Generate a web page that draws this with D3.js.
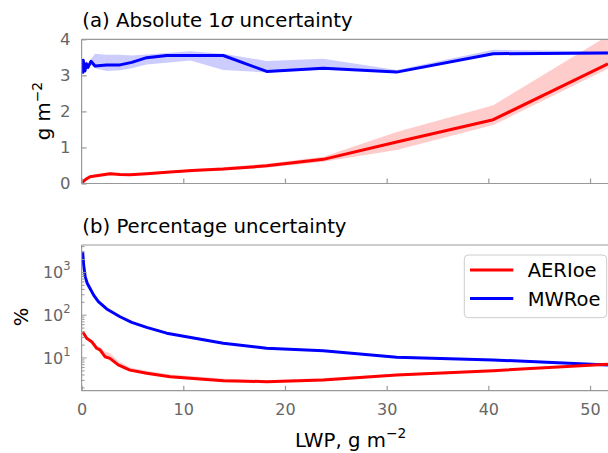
<!DOCTYPE html>
<html>
<head>
<meta charset="utf-8">
<script src="https://cdn.jsdelivr.net/npm/d3@7"></script>
<style>
  body { margin: 0; background: #fff; }
  svg { display: block; font-family: "DejaVu Sans", sans-serif; }
</style>
</head>
<body>
<svg id="chart" width="608" height="453"></svg>
<script>
// (a) absolute 1-sigma uncertainty, g m-2
const aeriAbsX = [0.04, 0.2, 0.5, 0.83, 1.3, 1.81, 2.8, 3.78, 4.76, 6.4, 8.7, 10.9, 13.93, 18.2, 23.77, 30.98, 40.48, 51.76];
const aeriAbs = [0.0, 0.07, 0.13, 0.19, 0.21, 0.23, 0.27, 0.25, 0.24, 0.27, 0.32, 0.36, 0.40, 0.49, 0.67, 1.15, 1.77, 3.32];
const aeriAbsLo = [0.0, 0.05, 0.11, 0.17, 0.19, 0.21, 0.24, 0.23, 0.22, 0.25, 0.30, 0.33, 0.36, 0.44, 0.60, 0.93, 1.62, 3.18];
const aeriAbsHi = [0.02, 0.09, 0.15, 0.21, 0.24, 0.27, 0.32, 0.28, 0.27, 0.30, 0.35, 0.40, 0.45, 0.55, 0.74, 1.43, 2.17, 4.10];

const mwrAbsX = [0.09, 0.16, 0.33, 0.48, 0.63, 0.92, 1.32, 2.47, 3.78, 4.93, 6.4, 8.37, 10.7, 13.93, 18.2, 23.77, 30.98, 40.48, 51.76];
const mwrAbs = [3.05, 3.42, 3.12, 3.32, 3.22, 3.39, 3.26, 3.29, 3.29, 3.36, 3.49, 3.55, 3.55, 3.55, 3.11, 3.20, 3.09, 3.60, 3.62];
const mwrAbsLo = [3.0, 3.3, 3.05, 3.25, 3.15, 3.3, 3.2, 3.12, 3.14, 3.2, 3.3, 3.35, 3.41, 3.15, 3.08, 3.17, 3.07, 3.58, 3.60];
const mwrAbsHi = [3.1, 3.5, 3.2, 3.4, 3.3, 3.45, 3.6, 3.57, 3.57, 3.55, 3.58, 3.62, 3.67, 3.6, 3.4, 3.46, 3.15, 3.71, 3.66];

// (b) percentage uncertainty
const aeriPctX = [0.11, 0.5, 0.99, 1.48, 1.81, 2.3, 2.79, 3.6, 4.76, 6.4, 8.7, 13.93, 18.2, 23.77, 30.98, 40.48, 51.76];
const aeriPct = [41, 28.9, 24, 16.9, 15.4, 10.7, 9.8, 6.9, 5.2, 4.4, 3.66, 2.95, 2.8, 3.06, 4.0, 5.05, 7.1];
const aeriPctLo = [39, 27, 22, 15.5, 14.5, 10, 9.2, 6.5, 4.9, 4.2, 3.5, 2.85, 2.7, 2.95, 3.8, 4.9, 6.9];
const aeriPctHi = [44, 31, 26, 19, 18, 14, 13, 8.5, 6, 5, 4.1, 3.3, 3.0, 3.4, 4.3, 5.3, 7.5];

const mwrPctX = [0.1, 0.2, 0.35, 0.55, 0.82, 1.2, 1.65, 2.47, 3.78, 4.93, 6.4, 8.37, 13.93, 18.2, 23.77, 30.98, 40.48, 51.76];
const mwrPct = [3050, 1500, 795, 560, 427, 290, 207, 140, 92, 68, 52, 38, 22, 16.9, 14.8, 10.4, 9.0, 6.9];

const xTicks = [0, 10, 20, 30, 40, 50];
const absTicks = [0, 1, 2, 3, 4];
const seriesNames = ["AERIoe", "MWRoe"];
const seriesColors = ["#ff0000", "#0000ff"];

const svg = d3.select("#chart");
const spineColor = "#999", labelColor = "#666";
const bigFont = "19.7px", tickFont = "16px";

const x = d3.scaleLinear().domain([0, 52.75]).range([81.6, 618]);
const yA = d3.scaleLinear().domain([0, 4]).range([183.5, 39.3]);
const yB = d3.scaleLog().domain([1.72, 4365]).range([390.7, 245]);

// clip rects for each panel
const defs = svg.append("defs");
defs.append("clipPath").attr("id", "clipA").append("rect")
    .attr("x", 81.6).attr("y", 39.3).attr("width", 540).attr("height", 183.5 - 39.3);
defs.append("clipPath").attr("id", "clipB").append("rect")
    .attr("x", 81.6).attr("y", 245).attr("width", 540).attr("height", 390.7 - 245);

function zip(xs, ys) { return xs.map((d, i) => [d, ys[i]]); }

function drawBand(g, y, xs, lo, hi, color) {
    const area = d3.area().x(d => x(d[0])).y0(d => y(d[1])).y1(d => y(d[2]));
    g.append("path")
        .datum(xs.map((d, i) => [d, lo[i], hi[i]]))
        .attr("d", area)
        .attr("fill", color).attr("fill-opacity", 0.2).attr("stroke", "none");
}
function drawLine(g, y, xs, ys, color) {
    const line = d3.line().x(d => x(d[0])).y(d => y(d[1]));
    g.append("path")
        .datum(zip(xs, ys))
        .attr("d", line)
        .attr("fill", "none").attr("stroke", color)
        .attr("stroke-width", 3).attr("stroke-linejoin", "round");
}

// panel a
const gA = svg.append("g").attr("clip-path", "url(#clipA)");
drawBand(gA, yA, mwrAbsX, mwrAbsLo, mwrAbsHi, seriesColors[1]);
drawBand(gA, yA, aeriAbsX, aeriAbsLo, aeriAbsHi, seriesColors[0]);
drawLine(gA, yA, mwrAbsX, mwrAbs, seriesColors[1]);
drawLine(gA, yA, aeriAbsX, aeriAbs, seriesColors[0]);

// panel b
const gB = svg.append("g").attr("clip-path", "url(#clipB)");
drawBand(gB, yB, aeriPctX, aeriPctLo, aeriPctHi, seriesColors[0]);
drawLine(gB, yB, mwrPctX, mwrPct, seriesColors[1]);
drawLine(gB, yB, aeriPctX, aeriPct, seriesColors[0]);

// spines (right one falls outside the window)
function spines(top, bottom) {
    const g = svg.append("g").attr("stroke", spineColor).attr("stroke-width", 1.2);
    g.append("line").attr("x1", 81.6).attr("x2", 81.6).attr("y1", top).attr("y2", bottom);
    g.append("line").attr("x1", 81.6).attr("x2", 618).attr("y1", top).attr("y2", top);
    g.append("line").attr("x1", 81.6).attr("x2", 618).attr("y1", bottom).attr("y2", bottom);
}
spines(39.3, 183.5);
spines(245, 390.7);

function styleAxis(g) {
    g.select(".domain").remove();
    g.selectAll(".tick line").attr("stroke", spineColor).attr("stroke-width", 1.2);
    g.selectAll(".tick text").attr("fill", labelColor).style("font-size", tickFont)
        .style("font-family", "DejaVu Sans");
}

// x axes (ticks inward)
svg.append("g").attr("transform", "translate(0,183.5)")
    .call(d3.axisBottom(x).tickValues(xTicks).tickSizeInner(-5).tickSizeOuter(0).tickFormat(""))
    .call(styleAxis);
svg.append("g").attr("transform", "translate(0,390.7)")
    .call(d3.axisBottom(x).tickValues(xTicks).tickSizeInner(-5).tickSizeOuter(0).tickPadding(13))
    .call(styleAxis);

// y axis a
svg.append("g").attr("transform", "translate(81.6,0)")
    .call(d3.axisLeft(yA).tickValues(absTicks).tickFormat(d3.format("d"))
        .tickSizeInner(-5).tickSizeOuter(0).tickPadding(11))
    .call(styleAxis)
    .selectAll(".tick text").style("font-size", "16.5px");

// y axis b (log)
const logTicks = yB.ticks().filter(d => d >= 1.72 && d <= 4365);
const gYB = svg.append("g").attr("transform", "translate(81.6,0)");
gYB.selectAll("line").data(logTicks).join("line")
    .attr("x1", 0)
    .attr("x2", d => Number.isInteger(Math.log10(d)) ? 5 : 3)
    .attr("y1", d => yB(d)).attr("y2", d => yB(d))
    .attr("stroke", spineColor).attr("stroke-width", 1);
const majors = logTicks.filter(d => Number.isInteger(Math.log10(d)));
const lbl = gYB.selectAll("text").data(majors).join("text")
    .attr("x", -11).attr("y", d => yB(d) + 6)
    .attr("text-anchor", "end").attr("fill", labelColor)
    .style("font-size", tickFont);
lbl.append("tspan").text("10");
lbl.append("tspan").attr("dy", -8).style("font-size", "11.5px").text(d => Math.round(Math.log10(d)));

// titles
const tA = svg.append("text").attr("x", 82.3).attr("y", 26.7).style("font-size", bigFont).attr("fill", "#000");
tA.append("tspan").text("(a) Absolute 1");
tA.append("tspan").style("font-style", "italic").text("σ");
tA.append("tspan").text(" uncertainty");
svg.append("text").attr("x", 82.3).attr("y", 233.3).style("font-size", bigFont).attr("fill", "#000")
    .text("(b) Percentage uncertainty");

// axis labels
function unitLabel(sel, prefix) {
    sel.append("tspan").text(prefix + "g m");
    sel.append("tspan").attr("dy", -8.5).style("font-size", "13.8px").text("−2");
}
const ylA = svg.append("text").attr("transform", "translate(50,111) rotate(-90)")
    .attr("text-anchor", "middle").style("font-size", bigFont).attr("fill", "#000");
unitLabel(ylA, "");
svg.append("text").attr("transform", "translate(28,317) rotate(-90)")
    .attr("text-anchor", "middle").style("font-size", bigFont).attr("fill", "#000").text("%");
const xl = svg.append("text").attr("x", 350.6).attr("y", 446.7)
    .attr("text-anchor", "middle").style("font-size", bigFont).attr("fill", "#000");
unitLabel(xl, "LWP, ");

// legend
const leg = svg.append("g");
leg.append("rect").attr("x", 464.3).attr("y", 255).attr("width", 142.4).attr("height", 62.7)
    .attr("rx", 4).attr("fill", "#fff").attr("fill-opacity", 0.8).attr("stroke", "#ccc");
seriesNames.forEach((name, i) => {
    const ly = 270 + i * 28.5;
    leg.append("line").attr("x1", 470).attr("x2", 513.3).attr("y1", ly).attr("y2", ly)
        .attr("stroke", seriesColors[i]).attr("stroke-width", 3);
    leg.append("text").attr("x", 527.7).attr("y", ly + 7).style("font-size", "19.5px")
        .attr("fill", "#000").text(name);
});
</script>
</body>
</html>
